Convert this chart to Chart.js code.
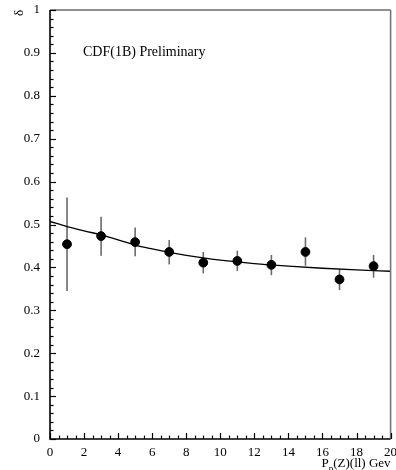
<!DOCTYPE html>
<html>
<head>
<meta charset="utf-8">
<script src="https://cdn.jsdelivr.net/npm/chart.js@4/dist/chart.umd.min.js"></script>
<style>
  html, body { margin: 0; padding: 0; background: #fff; }
  #c { display: block; }
</style>
</head>
<body>
<canvas id="c" width="396" height="470"></canvas>
<script>
// ---- data ----
const ptX    = [1, 3, 5, 7, 9, 11, 13, 15, 17, 19];
const ptY    = [0.454, 0.473, 0.459, 0.436, 0.411, 0.415, 0.406, 0.436, 0.372, 0.403];
const errLo  = [0.345, 0.427, 0.426, 0.407, 0.386, 0.392, 0.382, 0.404, 0.347, 0.376];
const errHi  = [0.563, 0.518, 0.493, 0.464, 0.436, 0.439, 0.429, 0.470, 0.396, 0.429];

// fitted curve, sampled from the drawn line
const fitX = [0, 1, 2, 3, 4, 5, 6, 7, 8, 9, 10, 12, 14, 16, 18, 20];
const fitY = [0.507, 0.495, 0.485, 0.476, 0.464, 0.452, 0.443, 0.435, 0.428, 0.422, 0.417, 0.409, 0.403, 0.398, 0.394, 0.391];

const xTitle = ['P', 'p', '(Z)(ll) Gev'];
const yTitle = 'δ';
const note = 'CDF(1B) Preliminary';

const FONT = "'Liberation Serif', 'DejaVu Serif', serif";

// ---- frame, inward ticks, errors, labels ----
const decor = {
  id: 'decor',
  beforeDatasetsDraw(chart) {
    const { ctx, scales: { x, y } } = chart;
    ctx.save();
    ctx.strokeStyle = '#6a6a6a';
    ctx.lineWidth = 1.6;
    ptX.forEach((v, i) => {
      const px = x.getPixelForValue(v);
      ctx.beginPath();
      ctx.moveTo(px, y.getPixelForValue(errLo[i]));
      ctx.lineTo(px, y.getPixelForValue(errHi[i]));
      ctx.stroke();
    });
    ctx.restore();
  },
  afterDraw(chart) {
    const { ctx, chartArea: a, scales: { x, y } } = chart;
    ctx.save();
    // frame
    ctx.strokeStyle = '#222';
    ctx.lineWidth = 1.2;
    ctx.beginPath(); ctx.moveTo(a.left, a.top); ctx.lineTo(a.right, a.top); ctx.stroke();
    ctx.strokeStyle = '#777';
    ctx.lineWidth = 1.6;
    ctx.beginPath(); ctx.moveTo(a.right, a.top); ctx.lineTo(a.right, a.bottom); ctx.stroke();
    ctx.strokeStyle = '#000';
    ctx.lineWidth = 1.6;
    ctx.beginPath(); ctx.moveTo(a.left, a.top); ctx.lineTo(a.left, a.bottom); ctx.lineTo(a.right, a.bottom); ctx.stroke();

    // ticks
    ctx.lineWidth = 1.2;
    for (let i = 0; i <= 40; i++) {
      const px = Math.round(x.getPixelForValue(i * 0.5)) + 0.5;
      const len = i % 4 === 0 ? 6 : 3.5;
      ctx.beginPath(); ctx.moveTo(px, a.bottom); ctx.lineTo(px, a.bottom - len); ctx.stroke();
    }
    for (let i = 0; i <= 50; i++) {
      const py = Math.round(y.getPixelForValue(i * 0.02)) + 0.5;
      const len = i % 5 === 0 ? 6 : 3.5;
      ctx.beginPath(); ctx.moveTo(a.left, py); ctx.lineTo(a.left + len, py); ctx.stroke();
    }

    // texts
    ctx.fillStyle = '#000';
    ctx.textBaseline = 'alphabetic';
    ctx.font = '14px ' + FONT;
    ctx.textAlign = 'left';
    ctx.fillText(note, 83, 56);

    // x title with subscript, right aligned to frame
    ctx.font = '13px ' + FONT;
    const w0 = ctx.measureText(xTitle[0]).width;
    ctx.font = '9px ' + FONT;
    const w1 = ctx.measureText(xTitle[1]).width;
    ctx.font = '13px ' + FONT;
    const w2 = ctx.measureText(xTitle[2]).width;
    let tx = a.right - (w0 + w1 + w2);
    ctx.fillText(xTitle[0], tx, 467);
    tx += w0;
    ctx.font = '9px ' + FONT;
    ctx.fillText(xTitle[1], tx, 471);
    tx += w1;
    ctx.font = '13px ' + FONT;
    ctx.fillText(xTitle[2], tx, 467);

    // y title, rotated
    ctx.translate(23, 13);
    ctx.rotate(-Math.PI / 2);
    ctx.textAlign = 'center';
    ctx.font = '13px ' + FONT;
    ctx.fillText(yTitle, 0, 0);
    ctx.restore();
  }
};

new Chart(document.getElementById('c'), {
  type: 'scatter',
  data: {
    datasets: [
      {
        label: 'fit',
        type: 'line',
        data: fitX.map((v, i) => ({ x: v, y: fitY[i] })),
        borderColor: '#000',
        borderWidth: 1.3,
        pointRadius: 0,
        tension: 0.4,
        cubicInterpolationMode: 'monotone',
        fill: false,
        order: 2
      },
      {
        label: 'data',
        data: ptX.map((v, i) => ({ x: v, y: ptY[i] })),
        backgroundColor: '#000',
        borderColor: '#000',
        pointRadius: 4.4,
        pointHoverRadius: 4.4,
        showLine: false,
        order: 1
      }
    ]
  },
  options: {
    responsive: false,
    animation: false,
    events: [],
    layout: { padding: { top: 10, right: 5, bottom: 0, left: 0 } },
    plugins: {
      legend: { display: false },
      tooltip: { enabled: false },
      title: { display: false }
    },
    scales: {
      x: {
        type: 'linear',
        min: 0,
        max: 20,
        grid: { display: false, drawTicks: false },
        border: { display: false },
        ticks: {
          stepSize: 2,
          autoSkip: false,
          maxRotation: 0,
          padding: 6,
          color: '#000',
          font: { family: FONT, size: 13 }
        },
        afterFit(s) { s.height = 31; s.paddingLeft = 0; s.paddingRight = 0; }
      },
      y: {
        type: 'linear',
        min: 0,
        max: 1,
        grid: { display: false, drawTicks: false },
        border: { display: false },
        ticks: {
          stepSize: 0.1,
          padding: 10,
          color: '#000',
          font: { family: FONT, size: 13 },
          callback: v => String(Number(v.toFixed(1)))
        },
        afterFit(s) { s.width = 50; s.paddingTop = 0; s.paddingBottom = 0; }
      }
    }
  },
  plugins: [decor]
});
</script>
</body>
</html>
